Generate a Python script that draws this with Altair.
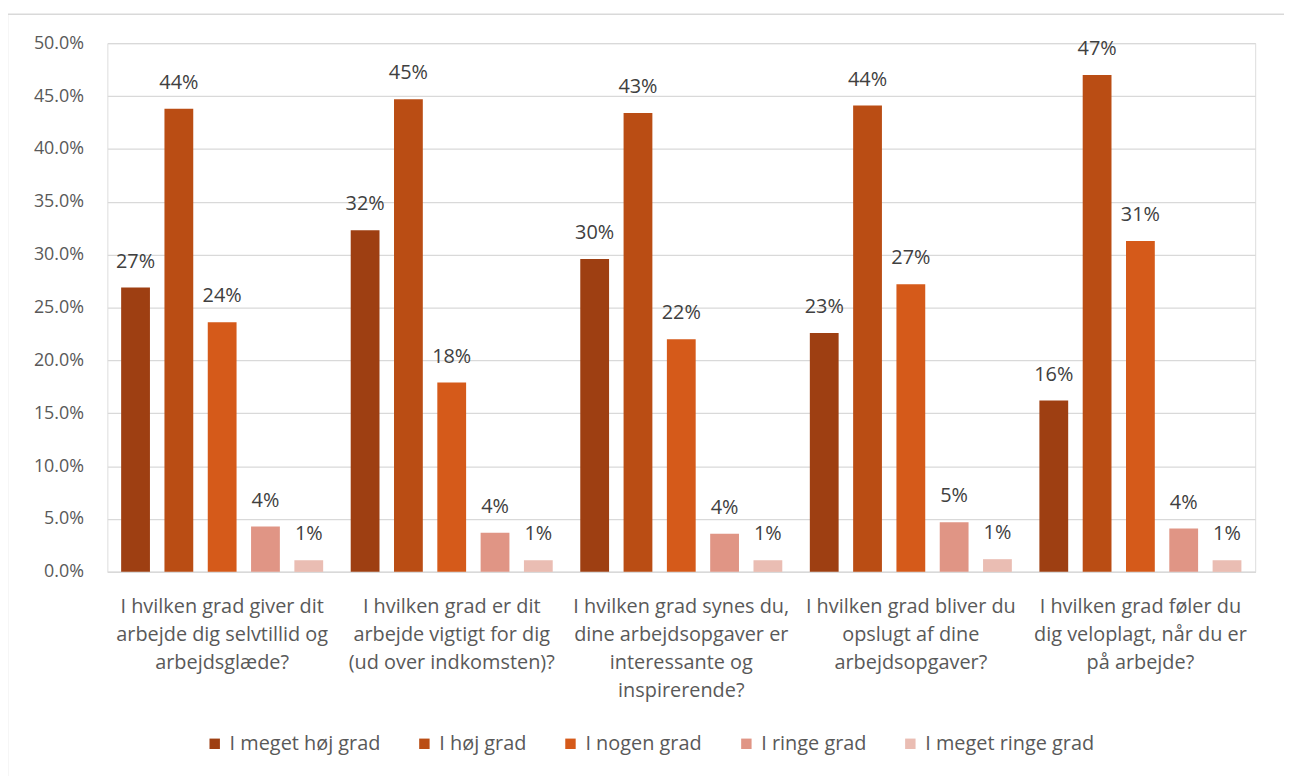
import altair as alt
import pandas as pd

categories = [
    "I hvilken grad giver dit\narbejde dig selvtillid og\narbejdsglæde?",
    "I hvilken grad er dit\narbejde vigtigt for dig\n(ud over indkomsten)?",
    "I hvilken grad synes du,\ndine arbejdsopgaver er\ninteressante og\ninspirerende?",
    "I hvilken grad bliver du\nopslugt af dine\narbejdsopgaver?",
    "I hvilken grad føler du\ndig veloplagt, når du er\npå arbejde?",
]
series = ["I meget høj grad", "I høj grad", "I nogen grad", "I ringe grad", "I meget ringe grad"]
colors = ["#9E3F12", "#BA4D14", "#D55A1A", "#E09585", "#EABDB3"]

meget_hoj = [26.9, 32.3, 29.6, 22.6, 16.2]
hoj = [43.8, 44.7, 43.4, 44.1, 47.0]
nogen = [23.6, 17.9, 22.0, 27.2, 31.3]
ringe = [4.3, 3.7, 3.6, 4.7, 4.1]
meget_ringe = [1.1, 1.1, 1.1, 1.2, 1.1]

rows = []
for s, vals in zip(series, [meget_hoj, hoj, nogen, ringe, meget_ringe]):
    for c, v in zip(categories, vals):
        rows.append({"kategori": c, "svar": s, "andel": v / 100})
df = pd.DataFrame(rows)

FONT = "Open Sans"
GREY = "#595959"

x = alt.X("kategori:N", sort=categories, title=None,
          scale=alt.Scale(paddingInner=0, paddingOuter=0),
          axis=alt.Axis(labelAngle=0, labelExpr="split(datum.label, '\\n')",
                        labelFontSize=20, labelColor=GREY, labelFont=FONT,
                        labelLineHeight=28, labelBaseline="top", labelPadding=25,
                        labelLimit=400, ticks=False, domainColor="#D9D9D9",
                        domainWidth=1.5))
xo = alt.XOffset("svar:N", sort=series,
                 scale=alt.Scale(paddingInner=0.335, paddingOuter=0.318))
y = alt.Y("andel:Q", title=None,
          scale=alt.Scale(domain=[0, 0.5], nice=False),
          axis=alt.Axis(values=[i * 0.05 for i in range(11)], format=".1%",
                        labelFontSize=18, labelColor=GREY, labelFont=FONT,
                        labelPadding=24, gridColor="#D9D9D9", gridWidth=1.3,
                        domain=False, ticks=False))

bars = alt.Chart(df).mark_bar().encode(
    x=x, xOffset=xo, y=y,
    color=alt.Color("svar:N", sort=series,
                    scale=alt.Scale(domain=series, range=colors),
                    legend=alt.Legend(title=None, orient="none", direction="horizontal",
                                      legendX=98, legendY=695, symbolType="square",
                                      symbolSize=110, symbolStrokeWidth=0,
                                      labelFontSize=20, labelColor=GREY, labelFont=FONT,
                                      labelLimit=400, columnPadding=34, labelOffset=5,
                                      columns=5)),
)

labels = alt.Chart(df).mark_text(baseline="alphabetic", dy=-20, fontSize=20,
                                 color="#404040", font=FONT).encode(
    x=x, xOffset=xo, y=y,
    text=alt.Text("andel:Q", format=".0%"),
)

frame = alt.Chart(pd.DataFrame({"f": [0]})).mark_rect(
    filled=False, stroke="#D9D9D9", strokeWidth=1.5
).encode(
    x=alt.value(-100.5), x2=alt.value(1250), y=alt.value(-29), y2=alt.value(760)
)

chart = alt.layer(frame, bars, labels).properties(
    width=1155, height=532,
    autosize=alt.AutoSizeParams(type="none"),
    padding={"left": 100, "top": 33, "right": 29, "bottom": 203},
).configure_view(stroke=None).configure(font=FONT)

chart.save("out.html", embed_options={"renderer": "svg", "actions": False})
